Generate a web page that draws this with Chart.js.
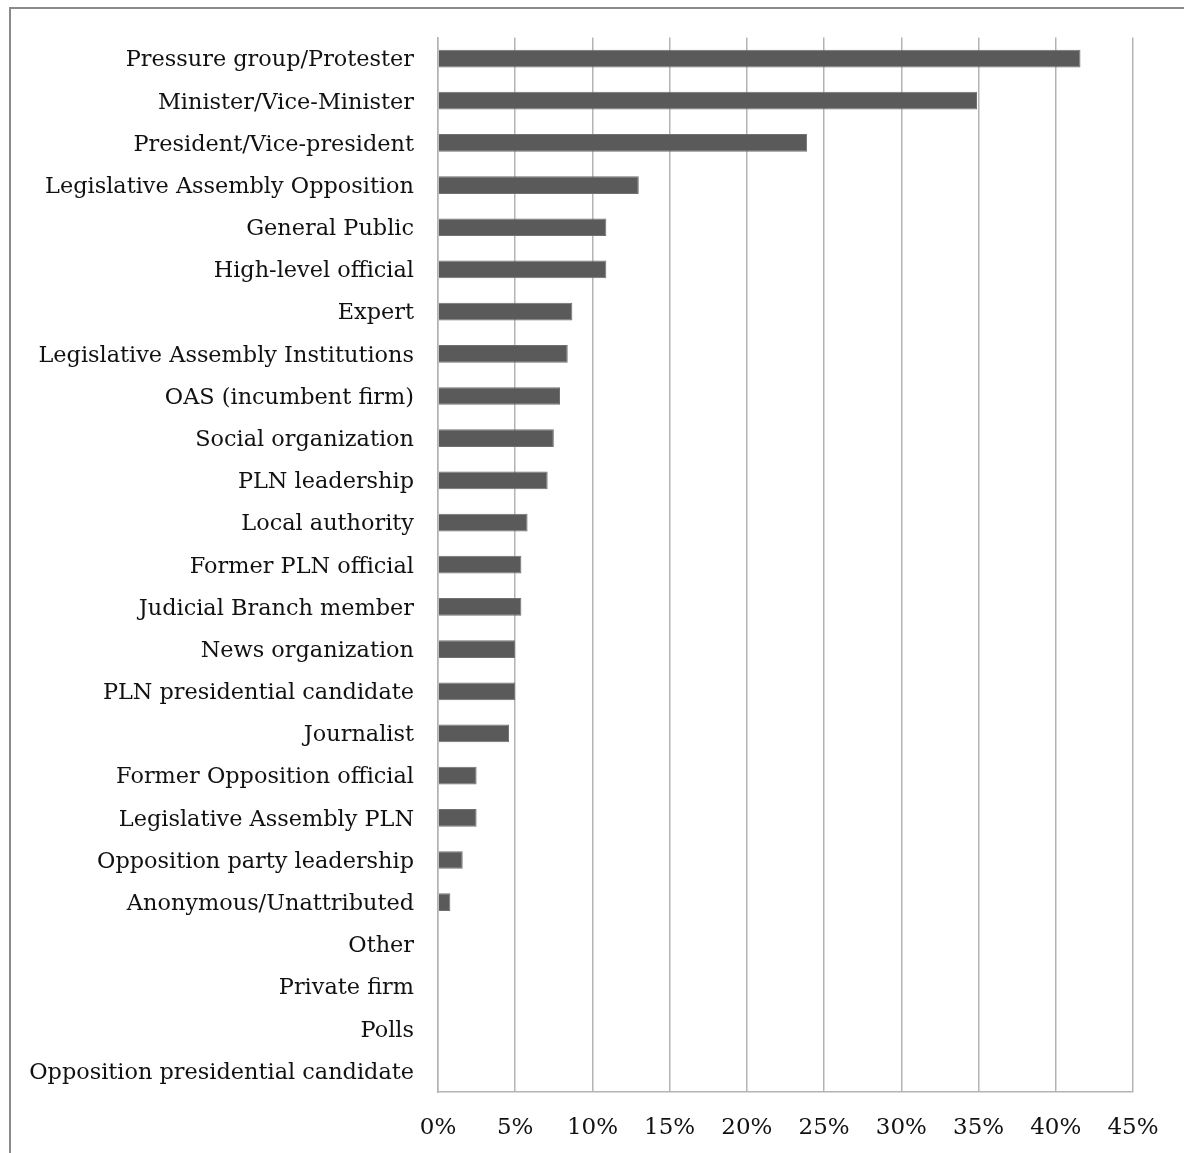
<!DOCTYPE html>
<html>
<head>
<meta charset="utf-8">
<script src="https://cdn.jsdelivr.net/npm/chart.js@4"></script>
<style>
  html, body { margin: 0; padding: 0; background: #fff; overflow: hidden; }
  #frame {
    position: absolute; left: 9px; top: 7px; width: 1300px; height: 1300px;
    border: 2px solid #8a8a8a; box-sizing: border-box;
  }
  #wrap { position: absolute; left: 0; top: 0; width: 1184px; height: 1153px; }
</style>
</head>
<body>
<div id="frame"></div>
<div id="wrap"><canvas id="sourceChart"></canvas></div>
<script>
const sourceLabels = [
  "Pressure group/Protester",
  "Minister/Vice-Minister",
  "President/Vice-president",
  "Legislative Assembly Opposition",
  "General Public",
  "High-level official",
  "Expert",
  "Legislative Assembly Institutions",
  "OAS (incumbent firm)",
  "Social organization",
  "PLN leadership",
  "Local authority",
  "Former PLN official",
  "Judicial Branch member",
  "News organization",
  "PLN presidential candidate",
  "Journalist",
  "Former Opposition official",
  "Legislative Assembly PLN",
  "Opposition party leadership",
  "Anonymous/Unattributed",
  "Other",
  "Private firm",
  "Polls",
  "Opposition presidential candidate"
];
const sourceShares = [
  41.6, 34.9, 23.9, 13.0, 10.9, 10.9, 8.7, 8.4, 7.9, 7.5, 7.1, 5.8,
  5.4, 5.4, 5.0, 5.0, 4.6, 2.5, 2.5, 1.6, 0.8, 0, 0, 0, 0
];
const xTicks = [0, 5, 10, 15, 20, 25, 30, 35, 40, 45];

new Chart("sourceChart", {
  type: "bar",
  data: {
    labels: sourceLabels,
    datasets: [{
      data: sourceShares,
      backgroundColor: "#5a5a5a",
      borderColor: "#707070",
      borderWidth: 1,
      barPercentage: 0.42,
      categoryPercentage: 1.0
    }]
  },
  options: {
    indexAxis: "y",
    responsive: true,
    maintainAspectRatio: false,
    animation: false,
    layout: { padding: { top: 37, right: 51, left: 0, bottom: 0 } },
    plugins: {
      legend: { display: false },
      tooltip: { enabled: false }
    },
    scales: {
      x: {
        min: 0,
        max: 45,
        afterBuildTicks: (scale) => { scale.ticks = xTicks.map(v => ({ value: v })); },
        afterFit: (scale) => { scale.height = 61; },
        grid: { color: "#b3b3b3", lineWidth: 1.5, drawTicks: false },
        border: { display: true, color: "#b3b3b3", width: 1.5 },
        ticks: {
          padding: 22,
          color: "#111",
          font: { family: "DejaVu Serif", size: 23 },
          callback: (v) => v + "%"
        }
      },
      y: {
        afterFit: (scale) => { scale.width = 438; },
        grid: { display: false, drawTicks: false },
        border: { display: true, color: "#b3b3b3", width: 1.5 },
        ticks: {
          padding: 24,
          labelOffset: 2,
          autoSkip: false,
          color: "#111",
          font: { family: "DejaVu Serif", size: 22.4 }
        }
      }
    }
  }
});
</script>
</body>
</html>
